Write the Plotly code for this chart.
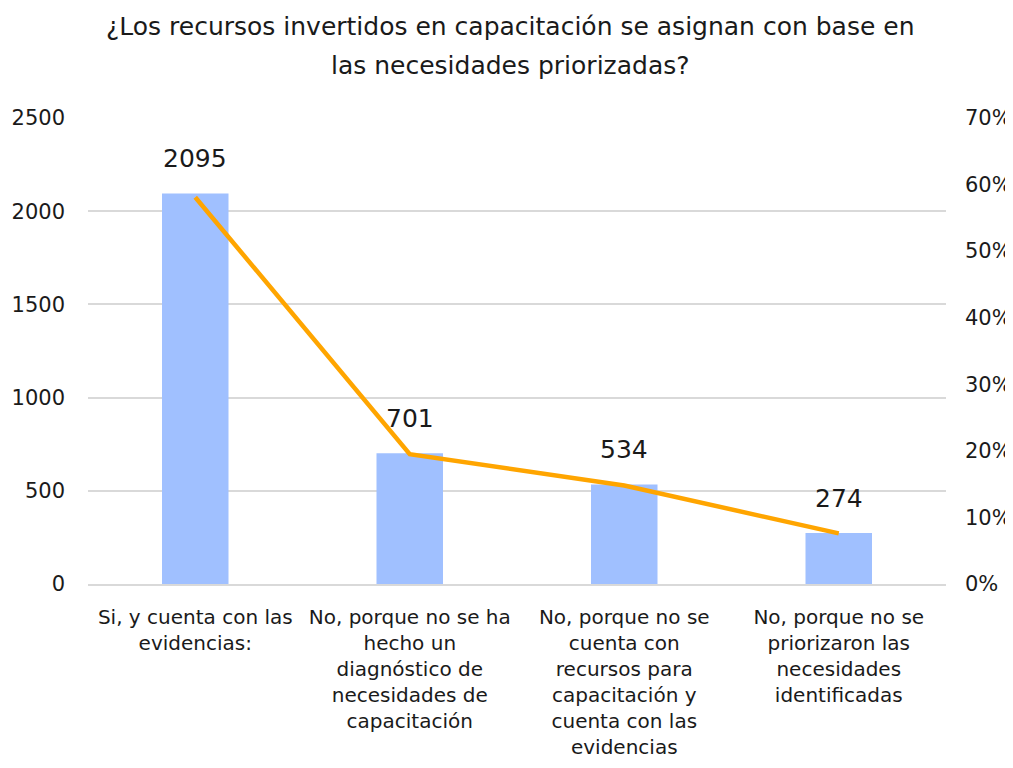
import plotly.graph_objects as go

categories = [
    "Si, y cuenta con las<br>evidencias:",
    "No, porque no se ha<br>hecho un<br>diagnóstico de<br>necesidades de<br>capacitación",
    "No, porque no se<br>cuenta con<br>recursos para<br>capacitación y<br>cuenta con las<br>evidencias",
    "No, porque no se<br>priorizaron las<br>necesidades<br>identificadas",
]
counts = [2095, 701, 534, 274]
percentages = [0.581, 0.195, 0.148, 0.076]
title_lines = [
    "¿Los recursos invertidos en capacitación se asignan con base en",
    "las necesidades priorizadas?",
]

FONT = "DejaVu Sans, sans-serif"
TXT = "#1a1a1a"

fig = go.Figure()
fig.add_trace(go.Bar(
    x=categories, y=counts, width=0.31,
    marker=dict(color="#A0C0FF", line=dict(width=0)),
    showlegend=False, hoverinfo="x+y",
))
fig.add_trace(go.Scatter(
    x=categories, y=percentages, yaxis="y2", mode="lines",
    line=dict(color="#FFA500", width=4.5), showlegend=False,
))

annotations = [
    dict(x=c, y=v, xref="x", yref="y", text=str(v), showarrow=False,
         yanchor="bottom", yshift=18, font=dict(size=25, family=FONT, color=TXT))
    for c, v in zip(categories, counts)
]
for line, ypos in zip(title_lines, [1.1953, 1.1137]):
    annotations.append(dict(
        text=line, xref="paper", yref="paper", x=0.492, y=ypos,
        xanchor="center", yanchor="middle", showarrow=False,
        font=dict(size=25, family=FONT, color=TXT),
    ))

fig.update_layout(
    width=1005, height=760,
    margin=dict(l=80, r=67, t=110, b=184, autoexpand=False),
    paper_bgcolor="white", plot_bgcolor="white",
    font=dict(family=FONT, color=TXT),
    annotations=annotations,
    xaxis=dict(
        tickfont=dict(size=20, family=FONT, color=TXT),
        showline=True, linecolor="#D9D9D9", linewidth=2,
        ticks="", showgrid=False, automargin=False,
        ticklabelstandoff=14,
    ),
    yaxis=dict(
        range=[0, 2500], dtick=500,
        tickfont=dict(size=21, family=FONT, color=TXT),
        showgrid=True, gridcolor="#D9D9D9", gridwidth=2,
        zeroline=False, showline=False, ticks="",
        ticklabelstandoff=22, automargin=False,
    ),
    yaxis2=dict(
        range=[0, 0.7], dtick=0.1, tickformat=".0%",
        overlaying="y", side="right",
        tickfont=dict(size=21, family=FONT, color=TXT),
        showgrid=False, zeroline=False, showline=False, ticks="",
        ticklabelstandoff=18, automargin=False,
    ),
    bargap=0.69,
)

fig.write_html("out.html")
